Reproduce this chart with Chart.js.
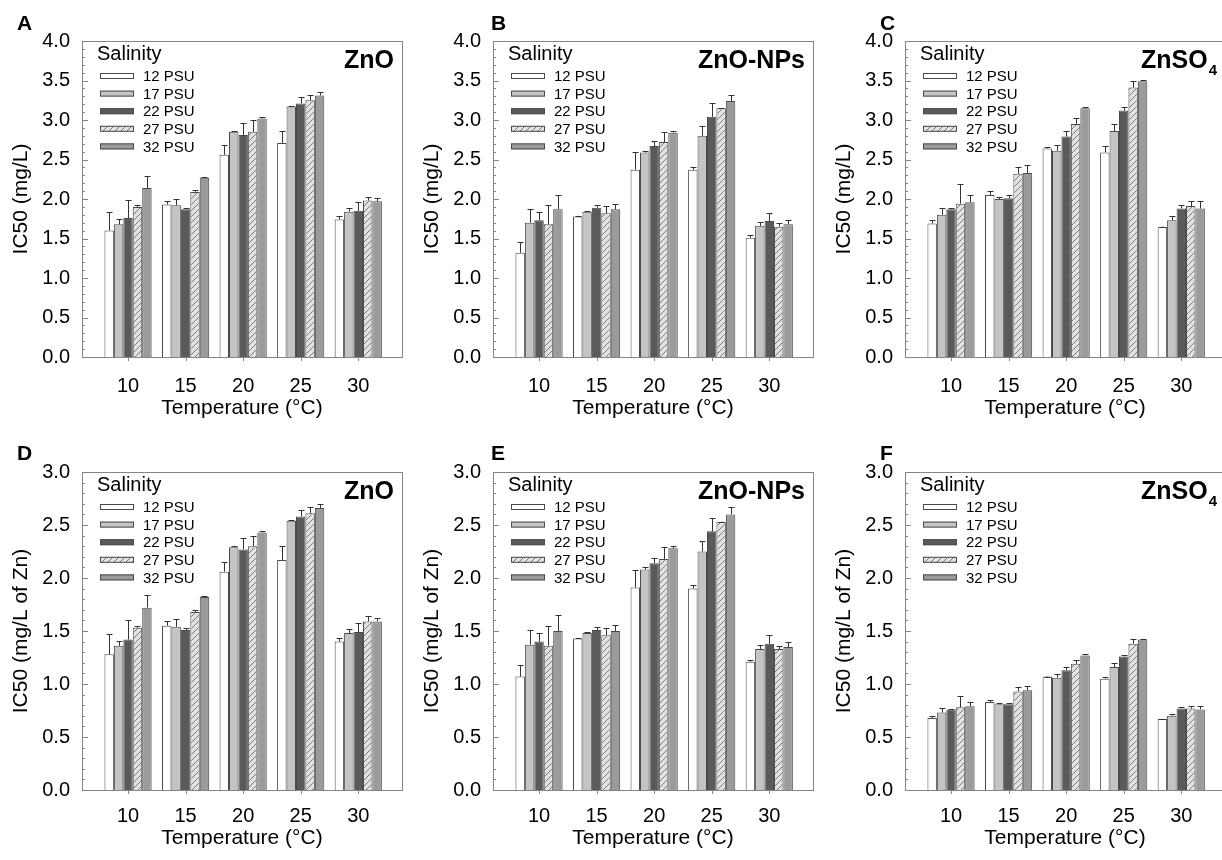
<!DOCTYPE html>
<html>
<head>
<meta charset="utf-8">
<script src="https://cdn.jsdelivr.net/npm/chart.js@4.4.1/dist/chart.umd.min.js"></script>
<style>
    html, body { margin: 0; padding: 0; background: #fff; overflow: hidden; }
    #page { position: relative; width: 1222px; height: 860px; overflow: hidden; }
    canvas { position: absolute; }
    .tag { position: absolute; font: bold 21px "Liberation Sans", Arial, sans-serif; line-height: 21px; color: #000; }
</style>
</head>
<body>
<div id="page">
    <canvas id="chartA" width="410" height="430" style="left:0px;top:0px"></canvas>
    <canvas id="chartB" width="410" height="430" style="left:411px;top:0px"></canvas>
    <canvas id="chartC" width="410" height="430" style="left:823px;top:0px"></canvas>
    <canvas id="chartD" width="410" height="430" style="left:0px;top:430px"></canvas>
    <canvas id="chartE" width="410" height="430" style="left:411px;top:430px"></canvas>
    <canvas id="chartF" width="410" height="430" style="left:823px;top:430px"></canvas>
    <div class="tag" style="left:17px;top:12px">A</div>
    <div class="tag" style="left:491px;top:12px">B</div>
    <div class="tag" style="left:880px;top:12px">C</div>
    <div class="tag" style="left:17px;top:442px">D</div>
    <div class="tag" style="left:491px;top:442px">E</div>
    <div class="tag" style="left:880px;top:442px">F</div>
</div>
<script>
const TEMPS = [10, 15, 20, 25, 30];
const SALINITY = ["12 PSU", "17 PSU", "22 PSU", "27 PSU", "32 PSU"];

// rows = salinity, columns = temperature
const ZNO_MEAN = [
    [1.60, 1.93, 2.56, 2.71, 1.74],
    [1.68, 1.92, 2.85, 3.17, 1.84],
    [1.76, 1.87, 2.81, 3.21, 1.85],
    [1.90, 2.09, 2.85, 3.25, 1.98],
    [2.14, 2.27, 3.02, 3.31, 1.97],
];
const ZNO_ERR = [
    [0.23, 0.04, 0.12, 0.15, 0.04],
    [0.07, 0.08, 0.01, 0.01, 0.05],
    [0.23, 0.02, 0.15, 0.08, 0.11],
    [0.02, 0.02, 0.15, 0.07, 0.05],
    [0.15, 0.01, 0.02, 0.05, 0.04],
];
const NPS_MEAN = [
    [1.32, 1.78, 2.37, 2.37, 1.51],
    [1.70, 1.84, 2.59, 2.80, 1.66],
    [1.73, 1.89, 2.67, 3.04, 1.72],
    [1.68, 1.82, 2.72, 3.15, 1.65],
    [1.87, 1.87, 2.84, 3.24, 1.68],
];
const NPS_ERR = [
    [0.14, 0.00, 0.22, 0.03, 0.03],
    [0.17, 0.01, 0.02, 0.12, 0.05],
    [0.11, 0.03, 0.06, 0.17, 0.10],
    [0.24, 0.09, 0.13, 0.00, 0.04],
    [0.18, 0.07, 0.02, 0.08, 0.06],
];
const SO4_MEAN = [
    [1.69, 2.05, 2.64, 2.59, 1.65],
    [1.80, 2.00, 2.61, 2.86, 1.73],
    [1.87, 2.01, 2.79, 3.12, 1.88],
    [1.94, 2.32, 2.95, 3.41, 1.91],
    [1.96, 2.33, 3.15, 3.49, 1.88],
];
const SO4_ERR = [
    [0.04, 0.05, 0.02, 0.08, 0.00],
    [0.09, 0.02, 0.07, 0.09, 0.06],
    [0.02, 0.04, 0.07, 0.04, 0.04],
    [0.25, 0.08, 0.07, 0.09, 0.06],
    [0.09, 0.10, 0.01, 0.02, 0.09],
];
const ZNO_ZN_MEAN = [
    [1.28, 1.55, 2.06, 2.17, 1.40],
    [1.36, 1.54, 2.29, 2.54, 1.48],
    [1.42, 1.51, 2.27, 2.58, 1.49],
    [1.53, 1.68, 2.30, 2.61, 1.59],
    [1.72, 1.82, 2.43, 2.66, 1.59],
];
const ZNO_ZN_ERR = [
    [0.19, 0.04, 0.09, 0.13, 0.03],
    [0.05, 0.07, 0.01, 0.01, 0.04],
    [0.18, 0.02, 0.11, 0.06, 0.09],
    [0.02, 0.02, 0.10, 0.06, 0.05],
    [0.12, 0.01, 0.01, 0.04, 0.03],
];
const NPS_ZN_MEAN = [
    [1.07, 1.43, 1.91, 1.90, 1.21],
    [1.37, 1.48, 2.08, 2.25, 1.33],
    [1.40, 1.51, 2.14, 2.44, 1.38],
    [1.36, 1.46, 2.18, 2.53, 1.33],
    [1.50, 1.50, 2.28, 2.60, 1.35],
];
const NPS_ZN_ERR = [
    [0.11, 0.00, 0.17, 0.03, 0.02],
    [0.14, 0.01, 0.02, 0.10, 0.04],
    [0.08, 0.03, 0.05, 0.13, 0.08],
    [0.19, 0.07, 0.11, 0.00, 0.03],
    [0.15, 0.06, 0.02, 0.07, 0.05],
];
const SO4_ZN_MEAN = [
    [0.68, 0.83, 1.07, 1.05, 0.67],
    [0.73, 0.81, 1.06, 1.16, 0.70],
    [0.76, 0.81, 1.13, 1.26, 0.77],
    [0.78, 0.93, 1.19, 1.38, 0.77],
    [0.79, 0.94, 1.27, 1.42, 0.76],
];
const SO4_ZN_ERR = [
    [0.02, 0.02, 0.00, 0.02, 0.00],
    [0.04, 0.01, 0.03, 0.04, 0.02],
    [0.00, 0.01, 0.03, 0.01, 0.01],
    [0.11, 0.04, 0.04, 0.04, 0.02],
    [0.04, 0.04, 0.01, 0.00, 0.03],
];

const FONT = '"Liberation Sans", Arial, sans-serif';
const FRAME = "#858585";
const EDGE = "#4a4a4a";

Chart.defaults.font.family = FONT;
Chart.defaults.color = "#000";

function makeHatch() {
    const tile = document.createElement("canvas");
    tile.width = 6;
    tile.height = 6;
    const c = tile.getContext("2d");
    c.fillStyle = "#e2e2e2";
    c.fillRect(0, 0, 6, 6);
    c.strokeStyle = "#7a7a7a";
    c.lineWidth = 1;
    c.beginPath();
    c.moveTo(0, 6); c.lineTo(6, 0);
    c.moveTo(-1, 1); c.lineTo(1, -1);
    c.moveTo(5, 7); c.lineTo(7, 5);
    c.stroke();
    return c.createPattern(tile, "repeat");
}

const HATCH = makeHatch();
const FILLS = ["#ffffff", "#c4c4c4", "#5a5a5a", HATCH, "#9b9b9b"];

function drawTitle(ctx, area, title, sub) {
    const right = area.right - 8;
    const base = area.top + 27;
    ctx.fillStyle = "#000";
    ctx.textBaseline = "alphabetic";
    ctx.textAlign = "right";
    let x = right;
    if (sub) {
        ctx.font = "bold 15px " + FONT;
        ctx.fillText(sub, x, base + 7);
        x -= ctx.measureText(sub).width + 1;
    }
    ctx.font = "bold 25px " + FONT;
    ctx.fillText(title, x, base);
}

function drawLegend(ctx, area, top) {
    const left = area.left;
    ctx.fillStyle = "#000";
    ctx.textAlign = "left";
    ctx.textBaseline = "middle";
    ctx.font = "20px " + FONT;
    ctx.fillText("Salinity", left + 15, top + 13);
    ctx.font = "15px " + FONT;
    SALINITY.forEach((name, i) => {
        const cy = top + 35 + i * 17.6;
        ctx.fillStyle = FILLS[i];
        ctx.fillRect(left + 18, cy - 3, 34, 6);
        ctx.strokeStyle = EDGE;
        ctx.lineWidth = 1;
        ctx.strokeRect(left + 18.5, cy - 2.5, 33, 5);
        ctx.fillStyle = "#000";
        ctx.fillText(name, left + 61, cy + 1);
    });
}

function decor(panel) {
    return {
        id: "decor",
        afterDatasetsDraw(chart) {
            const ctx = chart.ctx;
            const y = chart.scales.y;
            ctx.save();
            ctx.strokeStyle = "#333";
            ctx.lineWidth = 1;
            chart.data.datasets.forEach((ds, s) => {
                chart.getDatasetMeta(s).data.forEach((bar, i) => {
                    const x = Math.round(bar.x) + 0.5;
                    const top = Math.round(y.getPixelForValue(panel.mean[s][i] + panel.err[s][i])) + 0.5;
                    ctx.beginPath();
                    ctx.moveTo(x, bar.y);
                    ctx.lineTo(x, top);
                    ctx.moveTo(x - 3, top);
                    ctx.lineTo(x + 3, top);
                    ctx.stroke();
                });
            });
            ctx.restore();
        },
        afterDraw(chart) {
            const ctx = chart.ctx;
            const area = chart.chartArea;
            const y = chart.scales.y;
            const x = chart.scales.x;
            ctx.save();
            ctx.strokeStyle = FRAME;
            ctx.lineWidth = 1;
            ctx.strokeRect(Math.round(area.left) + 0.5, Math.round(area.top) + 0.5,
                Math.round(area.right - area.left), Math.round(area.bottom - area.top));
            ctx.beginPath();
            for (let k = 0; k <= panel.yMax * 10; k++) {
                const py = Math.round(y.getPixelForValue(k / 10)) + 0.5;
                const len = k % 5 === 0 ? 6 : 3;
                ctx.moveTo(area.left, py);
                ctx.lineTo(area.left + len, py);
            }
            TEMPS.forEach((t) => {
                const px = Math.round(x.getPixelForValue(t)) + 0.5;
                ctx.moveTo(px, area.bottom);
                ctx.lineTo(px, area.bottom + 4);
            });
            ctx.stroke();
            drawLegend(ctx, area, area.top);
            drawTitle(ctx, area, panel.title, panel.sub);
            ctx.restore();
        },
    };
}

function createPanel(canvasId, panel) {
    const datasets = SALINITY.map((name, s) => ({
        label: name,
        data: TEMPS.map((t, i) => ({ x: t, y: panel.mean[s][i] })),
        backgroundColor: FILLS[s],
        borderColor: EDGE,
        borderWidth: 1,
        categoryPercentage: 0.82,
        barPercentage: 1.0,
    }));
    return new Chart(document.getElementById(canvasId), {
        type: "bar",
        data: { datasets: datasets },
        options: {
            responsive: false,
            animation: false,
            events: [],
            layout: { padding: { left: 0, right: 8, top: panel.padTop, bottom: 0 } },
            plugins: {
                legend: { display: false },
                tooltip: { enabled: false },
            },
            scales: {
                x: {
                    type: "linear",
                    min: 6,
                    max: 33.8,
                    offset: false,
                    grid: { display: false, offset: false },
                    border: { display: false },
                    afterBuildTicks: (scale) => { scale.ticks = TEMPS.map((v) => ({ value: v })); },
                    afterFit: (scale) => { scale.height = panel.xHeight; },
                    ticks: {
                        font: { size: 20 },
                        padding: panel.xPad,
                        maxRotation: 0,
                        callback: (value) => String(value),
                    },
                    title: {
                        display: true,
                        text: "Temperature (°C)",
                        font: { size: 21 },
                        padding: { top: 0, bottom: 9 },
                    },
                },
                y: {
                    min: 0,
                    max: panel.yMax,
                    grid: { display: false },
                    border: { display: false },
                    afterFit: (scale) => { scale.width = 82; },
                    ticks: {
                        stepSize: 0.5,
                        font: { size: 20 },
                        padding: 4,
                        callback: (value) => value.toFixed(1),
                    },
                    title: {
                        display: true,
                        text: panel.yTitle,
                        font: { size: 21 },
                        padding: { top: 9, bottom: 0 },
                    },
                },
            },
        },
        plugins: [decor(panel)],
    });
}

const TOP_ROW = { yMax: 4, padTop: 41, xHeight: 73, xPad: 9, yTitle: "IC50 (mg/L)" };
const BOTTOM_ROW = { yMax: 3, padTop: 42, xHeight: 70, xPad: 6, yTitle: "IC50 (mg/L of Zn)" };

createPanel("chartA", { ...TOP_ROW, mean: ZNO_MEAN, err: ZNO_ERR, title: "ZnO" });
createPanel("chartB", { ...TOP_ROW, mean: NPS_MEAN, err: NPS_ERR, title: "ZnO-NPs" });
createPanel("chartC", { ...TOP_ROW, mean: SO4_MEAN, err: SO4_ERR, title: "ZnSO", sub: "4" });
createPanel("chartD", { ...BOTTOM_ROW, mean: ZNO_ZN_MEAN, err: ZNO_ZN_ERR, title: "ZnO" });
createPanel("chartE", { ...BOTTOM_ROW, mean: NPS_ZN_MEAN, err: NPS_ZN_ERR, title: "ZnO-NPs" });
createPanel("chartF", { ...BOTTOM_ROW, mean: SO4_ZN_MEAN, err: SO4_ZN_ERR, title: "ZnSO", sub: "4" });
</script>
</body>
</html>
